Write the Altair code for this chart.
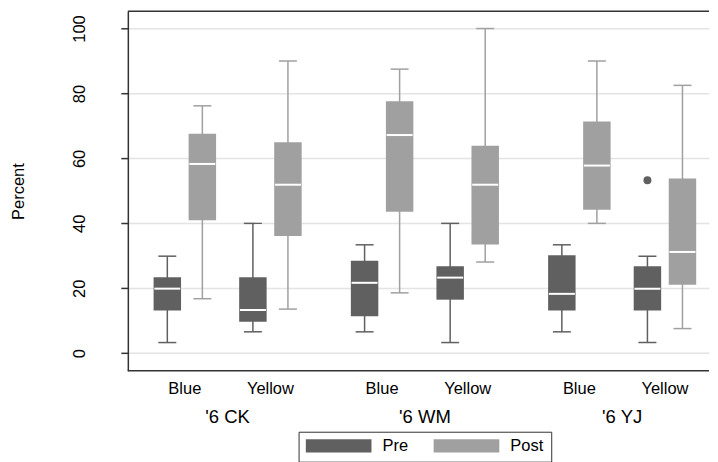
import altair as alt
import pandas as pd

# ---------------- data ----------------
groups = ["'6 CK", "'6 WM", "'6 YJ"]
colors = ["Blue", "Yellow"]
phases = ["Pre", "Post"]

# order: group -> color -> phase (Pre, Post)
whisker_low = [3.3, 16.8, 6.6, 13.6, 6.6, 18.6, 3.3, 28.1, 6.6, 40.0, 3.3, 7.6]
q1 = [13.2, 41.0, 9.7, 36.1, 11.4, 43.6, 16.5, 33.5, 13.2, 44.2, 13.2, 21.1]
median = [19.9, 58.3, 13.3, 51.9, 21.7, 67.2, 23.3, 51.9, 18.3, 57.8, 19.9, 31.2]
q3 = [23.4, 67.6, 23.4, 65.0, 28.5, 77.6, 26.8, 63.9, 30.2, 71.4, 26.8, 53.8]
whisker_high = [29.9, 76.2, 40.0, 90.0, 33.4, 87.5, 40.0, 100.0, 33.4, 90.0, 29.9, 82.5]

outlier_group = ["'6 YJ"]
outlier_color = ["Yellow"]
outlier_phase = ["Pre"]
outlier_value = [53.3]

y_ticks = [0, 20, 40, 60, 80, 100]

# ---------------- layout of the categorical axis (plot-width units) ----------------
W, H = 582, 360
FIRST, G_STEP, C_STEP, P_STEP = 35.15, 201, 87.2, 35.7

# ---------------- tables ----------------
rows = []
i = 0
for gi, g in enumerate(groups):
    for ci, c in enumerate(colors):
        for pi, p in enumerate(phases):
            rows.append(dict(group=g, color=c, phase=p, gi=gi, ci=ci, pi=pi,
                             lo=whisker_low[i], q1=q1[i], med=median[i], q3=q3[i],
                             hi=whisker_high[i]))
            i += 1
df = pd.DataFrame(rows)
out_df = pd.DataFrame(dict(group=outlier_group, color=outlier_color,
                           phase=outlier_phase, value=outlier_value))
out_df["gi"] = [groups.index(v) for v in out_df.group]
out_df["ci"] = [colors.index(v) for v in out_df.color]
out_df["pi"] = [phases.index(v) for v in out_df.phase]
lab_df = pd.DataFrame([dict(group=g, color=c, gi=gi, ci=ci)
                       for gi, g in enumerate(groups) for ci, c in enumerate(colors)])
grp_df = pd.DataFrame([dict(group=g, gi=gi) for gi, g in enumerate(groups)])

PRE, POST = "#606060", "#a0a0a0"
FRAME = "#333333"
FONT = "Liberation Sans"

pos_expr = f"{FIRST} + datum.gi*{G_STEP} + datum.ci*{C_STEP} + datum.pi*{P_STEP}"
pair_expr = f"{FIRST} + datum.gi*{G_STEP} + datum.ci*{C_STEP} + {P_STEP}/2"
grp_expr = f"{FIRST} + datum.gi*{G_STEP} + {C_STEP}/2 + {P_STEP}/2"

x_scale = alt.Scale(domain=[0, W], nice=False, zero=False)
y_scale = alt.Scale(domain=[-5.4, 105.3], nice=False, zero=False)
color_scale = alt.Scale(domain=phases, range=[PRE, POST])

legend = alt.Legend(
    title=None, orient="none", legendX=171, legendY=421, direction="horizontal",
    symbolType="M-1,-0.2L1,-0.2L1,0.2L-1,0.2Z", symbolSize=4356,
    symbolStrokeWidth=0, symbolOpacity=1, clipHeight=14,
    labelFontSize=16.5, labelOffset=11, columnPadding=25, padding=7,
    strokeColor=FRAME, fillColor="white", labelColor="black", labelFont=FONT,
)

yaxis = alt.Axis(values=y_ticks, title="Percent", tickSize=7, labelPadding=36,
                 labelAngle=270, labelAlign="center", labelBaseline="alphabetic",
                 labelFontSize=16.5, titleFontSize=16.5, titleAngle=270,
                 titleX=-104, titleY=180, titleAlign="center",
                 titleBaseline="alphabetic", titleFontWeight="normal",
                 grid=True, gridColor="#e4e4e4", gridWidth=1.5,
                 domainColor=FRAME, domainWidth=1.5, tickColor=FRAME, tickWidth=1.5,
                 labelColor="black", titleColor="black", labelFont=FONT, titleFont=FONT)


def Y(f):
    return alt.Y(f"{f}:Q", scale=y_scale, axis=yaxis)


X = alt.X("pos:Q", scale=x_scale, axis=None)
col = alt.Color("phase:N", scale=color_scale, legend=legend)

base = alt.Chart(df).transform_calculate(pos=pos_expr).encode(x=X, color=col)
whisk = base.mark_rule(strokeWidth=1.5).encode(y=Y("lo"), y2="hi:Q")
box = base.mark_bar(size=27.5, opacity=1).encode(y=Y("q1"), y2="q3:Q")
med = base.mark_tick(orient="horizontal", size=26, thickness=2, opacity=1).encode(
    y=Y("med"), color=alt.value("white"))
cap_lo = base.mark_tick(orient="horizontal", size=18, thickness=1.5, opacity=1).encode(y=Y("lo"))
cap_hi = base.mark_tick(orient="horizontal", size=18, thickness=1.5, opacity=1).encode(y=Y("hi"))
outl = alt.Chart(out_df).transform_calculate(pos=pos_expr).mark_point(
    filled=True, size=64, opacity=1).encode(x=X, y=Y("value"), color=col)

frame_df = pd.DataFrame({"edge": [0]})
top = alt.Chart(frame_df).mark_rule(color=FRAME, strokeWidth=1.5).encode(
    y=alt.value(0), x=alt.value(0), x2=alt.value(W))
bottom = alt.Chart(frame_df).mark_rule(color=FRAME, strokeWidth=1.5).encode(
    y=alt.value(H), x=alt.value(0), x2=alt.value(W))

color_labels = alt.Chart(lab_df).transform_calculate(pos=pair_expr).mark_text(
    fontSize=16.5, font=FONT, color="black", baseline="alphabetic", align="center"
).encode(x=X, y=alt.value(H + 23.7), text="color:N")
group_labels = alt.Chart(grp_df).transform_calculate(pos=grp_expr).mark_text(
    fontSize=18.5, font=FONT, color="black", baseline="alphabetic", align="center"
).encode(x=X, y=alt.value(H + 52), text="group:N")

chart = alt.layer(
    whisk, box, med, cap_lo, cap_hi, outl, top, bottom, color_labels, group_labels
).properties(
    width=W, height=H,
    padding={"left": 3, "top": 2, "right": 0, "bottom": 0},
).configure(font=FONT).configure_view(stroke=None)

chart.save("out.html", embed_options={"renderer": "svg", "actions": False})
